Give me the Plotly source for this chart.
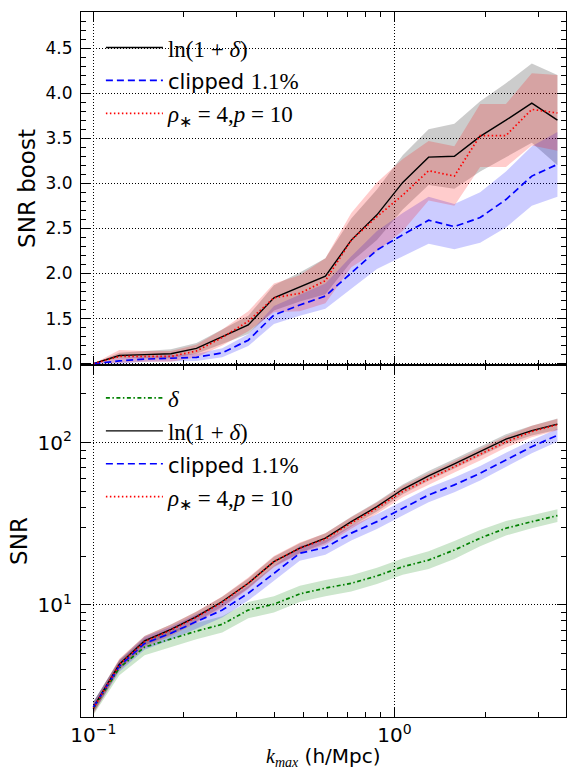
import plotly.graph_objects as go

# ---------------- data ----------------
k_max = [0.100, 0.122, 0.148, 0.181, 0.220, 0.268, 0.327, 0.398, 0.485, 0.590,
         0.719, 0.875, 1.066, 1.299, 1.582, 1.927, 2.347, 2.86, 3.48]

# top panel: SNR boost
boost_log = [1.00, 1.09, 1.10, 1.11, 1.17, 1.30, 1.43, 1.73, 1.85, 1.97,
             2.37, 2.65, 3.01, 3.29, 3.30, 3.52, 3.70, 3.89, 3.70]
boost_log_err = [0.0, 0.03, 0.04, 0.05, 0.06, 0.08, 0.10, 0.14, 0.16, 0.20,
                 0.24, 0.28, 0.30, 0.31, 0.36, 0.39, 0.41, 0.44, 0.50]
boost_clip = [1.00, 1.03, 1.05, 1.06, 1.07, 1.12, 1.26, 1.54, 1.65, 1.75,
              2.01, 2.26, 2.43, 2.59, 2.52, 2.62, 2.82, 3.08, 3.21]
boost_clip_err = [0.0, 0.03, 0.03, 0.035, 0.04, 0.05, 0.065, 0.10, 0.12, 0.14,
                  0.18, 0.21, 0.24, 0.26, 0.25, 0.28, 0.31, 0.33, 0.36]
boost_rho = [1.00, 1.08, 1.08, 1.08, 1.14, 1.29, 1.47, 1.73, 1.78, 1.92,
             2.37, 2.63, 2.87, 3.14, 3.08, 3.53, 3.53, 3.82, 3.78]
boost_rho_err = [0.0, 0.07, 0.06, 0.06, 0.07, 0.09, 0.11, 0.16, 0.20, 0.25,
                 0.30, 0.38, 0.40, 0.33, 0.33, 0.35, 0.35, 0.40, 0.42]

# bottom panel: SNR (half-widths of bands in dex)
snr_delta = [2.3, 4.1, 5.5, 6.2, 6.9, 7.6, 9.3, 10.1, 11.7, 12.7,
             13.6, 15.1, 17.2, 18.9, 21.8, 25.8, 29.7, 32.6, 35.5]
snr_delta_err = [0.04, 0.045, 0.05, 0.05, 0.05, 0.05, 0.05, 0.05, 0.05, 0.05,
                 0.05, 0.05, 0.05, 0.055, 0.055, 0.05, 0.045, 0.04, 0.04]
snr_log = [2.34, 4.31, 6.02, 7.08, 8.47, 10.5, 13.6, 18.5, 22.4, 25.8,
           32.6, 40.3, 51.6, 62.4, 74.0, 88.0, 105.0, 118.6, 130.0]
snr_log_err = [0.035, 0.03, 0.03, 0.03, 0.03, 0.03, 0.03, 0.03, 0.03, 0.03,
               0.03, 0.03, 0.03, 0.03, 0.03, 0.03, 0.03, 0.03, 0.035]
snr_clip = [2.34, 4.2, 5.8, 6.7, 7.9, 9.3, 11.8, 15.7, 20.8, 22.6,
            27.7, 32.6, 39.5, 47.6, 54.9, 64.7, 78.2, 94.4, 111.0]
snr_clip_err = [0.035, 0.035, 0.04, 0.04, 0.045, 0.045, 0.045, 0.045, 0.045, 0.045,
                0.045, 0.045, 0.045, 0.045, 0.045, 0.045, 0.045, 0.04, 0.04]
snr_rho = [2.3, 4.3, 5.95, 7.0, 8.4, 10.4, 13.6, 18.5, 22.4, 25.5,
           32.0, 39.5, 50.0, 59.5, 71.0, 84.0, 101.0, 117.0, 129.0]
snr_rho_err = [0.035, 0.035, 0.035, 0.035, 0.035, 0.035, 0.035, 0.035, 0.035, 0.035,
               0.035, 0.035, 0.035, 0.035, 0.035, 0.035, 0.035, 0.035, 0.035]

# tick labels
x_tickvals = [0.1, 1]
x_ticktext = ["10<sup>−1</sup>", "10<sup>0</sup>"]
x_minorvals = [0.2, 0.3, 0.4, 0.5, 0.6, 0.7, 0.8, 0.9, 2, 3]
y_tickvals = [10, 100]
y_ticktext = ["10<sup>1</sup>", "10<sup>2</sup>"]
y_minorvals = [3, 4, 5, 6, 7, 8, 9, 20, 30, 40, 50, 60, 70, 80, 90, 200, 300]

SERIF = "Liberation Serif"
SANS = "DejaVu Sans"

lbl_delta = "<i>δ</i>"
lbl_log = "ln(1 + <i>δ</i>)"
lbl_clip = f"<span style=\"font-family:{SANS};font-size:21px\">clipped </span>1.1%"
lbl_rho = "<i>ρ</i><sub>∗</sub> = 4,<i>p</i> = 10"
x_title = f"<i>k</i><sub><i>max</i></sub><span style=\"font-family:{SANS}\"> (h/Mpc)</span>"

fig = go.Figure()


def band_lin(x, y, e, color, xa, ya):
    up = [a + b for a, b in zip(y, e)]
    lo = [a - b for a, b in zip(y, e)]
    fig.add_trace(go.Scatter(x=list(x) + list(x)[::-1], y=up + lo[::-1], fill="toself",
                             fillcolor=color, line=dict(width=0), mode="lines",
                             showlegend=False, hoverinfo="skip", xaxis=xa, yaxis=ya))


def band_log(x, y, e, color, xa, ya):
    up = [a * 10 ** b for a, b in zip(y, e)]
    lo = [a / 10 ** b for a, b in zip(y, e)]
    fig.add_trace(go.Scatter(x=list(x) + list(x)[::-1], y=up + lo[::-1], fill="toself",
                             fillcolor=color, line=dict(width=0), mode="lines",
                             showlegend=False, hoverinfo="skip", xaxis=xa, yaxis=ya))


GRAY = "rgba(0,0,0,0.2)"
BLUEF = "rgba(0,0,255,0.2)"
REDF = "rgba(255,0,0,0.2)"
GREENF = "rgba(0,128,0,0.2)"

line_log = dict(color="black", width=1.4)
line_clip = dict(color="#0000ff", width=1.7, dash="7px,4px")
line_rho = dict(color="#ff0000", width=1.7, dash="1.5px,2.5px")
line_delta = dict(color="#008000", width=1.7, dash="4px,2.5px,1.5px,2.5px")

# ---- top panel ----
band_lin(k_max, boost_log, boost_log_err, GRAY, "x2", "y2")
band_lin(k_max, boost_clip, boost_clip_err, BLUEF, "x2", "y2")
band_lin(k_max, boost_rho, boost_rho_err, REDF, "x2", "y2")
fig.add_trace(go.Scatter(x=k_max, y=boost_log, mode="lines", line=line_log, name=lbl_log,
                         xaxis="x2", yaxis="y2", legend="legend", legendgroup="t1"))
fig.add_trace(go.Scatter(x=k_max, y=boost_clip, mode="lines", line=line_clip, name=lbl_clip,
                         xaxis="x2", yaxis="y2", legend="legend", legendgroup="t2"))
fig.add_trace(go.Scatter(x=k_max, y=boost_rho, mode="lines", line=line_rho, name=lbl_rho,
                         xaxis="x2", yaxis="y2", legend="legend", legendgroup="t3"))

# ---- bottom panel ----
band_log(k_max, snr_delta, snr_delta_err, GREENF, "x", "y")
band_log(k_max, snr_log, snr_log_err, GRAY, "x", "y")
band_log(k_max, snr_clip, snr_clip_err, BLUEF, "x", "y")
band_log(k_max, snr_rho, snr_rho_err, REDF, "x", "y")
fig.add_trace(go.Scatter(x=k_max, y=snr_delta, mode="lines", line=line_delta, name=lbl_delta,
                         xaxis="x", yaxis="y", legend="legend2", legendgroup="b0"))
fig.add_trace(go.Scatter(x=k_max, y=snr_log, mode="lines", line=line_log, name=lbl_log,
                         xaxis="x", yaxis="y", legend="legend2", legendgroup="b1"))
fig.add_trace(go.Scatter(x=k_max, y=snr_clip, mode="lines", line=line_clip, name=lbl_clip,
                         xaxis="x", yaxis="y", legend="legend2", legendgroup="b2"))
fig.add_trace(go.Scatter(x=k_max, y=snr_rho, mode="lines", line=line_rho, name=lbl_rho,
                         xaxis="x", yaxis="y", legend="legend2", legendgroup="b3"))

axis_common = dict(
    showline=True, linecolor="black", linewidth=1.2, mirror="allticks",
    ticks="inside", ticklen=9, tickwidth=1.2, tickcolor="black",
    showgrid=True, gridcolor="black", gridwidth=1, griddash="1px,2px",
    zeroline=False, automargin=False,
    tickfont=dict(family=SANS, size=17, color="black"),
)
minor_log_x = dict(ticks="inside", ticklen=5, tickwidth=1, tickcolor="black", showgrid=False,
                   tickmode="array", tickvals=x_minorvals)
minor_log_y = dict(ticks="inside", ticklen=5, tickwidth=1, tickcolor="black", showgrid=False,
                   tickmode="array", tickvals=y_minorvals)

XR = [-1.041, 0.570]

fig.update_layout(
    width=567, height=771,
    margin=dict(l=81, r=1, t=12, b=54),
    paper_bgcolor="white", plot_bgcolor="white",
    font=dict(family=SERIF, size=23, color="black"),
    xaxis=dict(axis_common, type="log", range=XR, anchor="y", domain=[0, 1],
               tickmode="array", tickvals=x_tickvals, ticktext=x_ticktext,
               tickfont=dict(family=SANS, size=20, color="black"), ticklabelstandoff=0,
               minor=minor_log_x),
    yaxis=dict(axis_common, type="log", range=[0.31, 2.478], anchor="x", domain=[0, 0.4993],
               tickmode="array", tickvals=y_tickvals, ticktext=y_ticktext,
               tickfont=dict(family=SANS, size=20, color="black"), ticklabelstandoff=4,
               minor=minor_log_y,
               title=dict(text="SNR", font=dict(family=SANS, size=23), standoff=3)),
    xaxis2=dict(axis_common, type="log", range=XR, anchor="y2", domain=[0, 1],
                matches="x", tickmode="array", tickvals=x_tickvals, ticktext=x_ticktext,
                showticklabels=False, minor=minor_log_x),
    yaxis2=dict(axis_common, range=[0.985, 4.9], anchor="x2", domain=[0.4993, 1],
                tick0=1.0, dtick=0.5, tickformat=".1f", ticklabelstandoff=4,
                minor=dict(ticks="inside", ticklen=5, tickwidth=1, tickcolor="black",
                           showgrid=False, dtick=0.1, tick0=1.0),
                title=dict(text="SNR boost", font=dict(family=SANS, size=23), standoff=3)),
    legend=dict(x=0.041, y=0.98, xanchor="left", yanchor="top", bgcolor="rgba(0,0,0,0)",
                font=dict(family=SERIF, size=23, color="black"), itemwidth=57,
                tracegroupgap=13, traceorder="normal"),
    legend2=dict(x=0.041, y=0.483, xanchor="left", yanchor="top", bgcolor="rgba(0,0,0,0)",
                 font=dict(family=SERIF, size=23, color="black"), itemwidth=57,
                 tracegroupgap=13, traceorder="normal"),
    showlegend=True,
    annotations=[dict(text=x_title, xref="paper", yref="paper", x=0.5, y=-0.057,
                      xanchor="center", yanchor="middle", showarrow=False,
                      font=dict(family=SERIF, size=20, color="black"))],
)

fig.write_html("out.html", config={"displayModeBar": False},
               post_script="document.body.style.margin='0px';")
